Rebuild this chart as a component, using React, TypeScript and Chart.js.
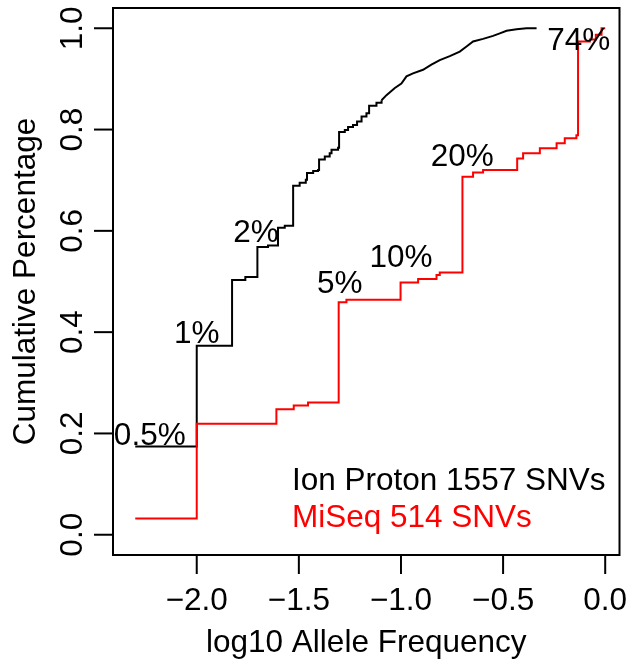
import { useEffect, useRef } from "react";
import { Chart, registerables } from "chart.js";

Chart.register(...registerables);

// Ion Proton ECDF (step part): log10 allele frequency and cumulative fraction
const ionStepX = [-2.301, -2.0, -1.827, -1.762, -1.703, -1.651, -1.602, -1.569, -1.528, -1.496, -1.466, -1.46, -1.43, -1.406, -1.401, -1.373, -1.349, -1.34, -1.308, -1.303, -1.275, -1.259, -1.235, -1.215, -1.193, -1.169, -1.156, -1.12, -1.095];
const ionStepY = [0.174, 0.373, 0.503, 0.509, 0.568, 0.571, 0.606, 0.61, 0.689, 0.695, 0.701, 0.714, 0.718, 0.72, 0.741, 0.747, 0.753, 0.76, 0.764, 0.795, 0.799, 0.805, 0.809, 0.816, 0.826, 0.832, 0.847, 0.853, 0.858];
// Ion Proton ECDF (dense tail)
const ionTailX = [-1.095, -1.071, -1.03, -0.998, -0.973, -0.941, -0.892, -0.851, -0.81, -0.761, -0.712, -0.679, -0.647, -0.598, -0.549, -0.516, -0.483, -0.434, -0.385, -0.336];
const ionTailY = [0.858, 0.868, 0.882, 0.891, 0.905, 0.911, 0.918, 0.928, 0.937, 0.945, 0.954, 0.964, 0.974, 0.979, 0.985, 0.99, 0.995, 0.998, 1.0, 1.0];
// MiSeq ECDF
const miseqX = [-2.301, -2.0, -1.61, -1.525, -1.455, -1.305, -1.267, -1.002, -0.916, -0.826, -0.81, -0.699, -0.647, -0.598, -0.431, -0.402, -0.32, -0.238, -0.198, -0.141, -0.133, -0.075, -0.046, -0.018, 0.0];
const miseqY = [0.032, 0.219, 0.248, 0.255, 0.261, 0.459, 0.464, 0.498, 0.505, 0.513, 0.518, 0.707, 0.715, 0.72, 0.743, 0.753, 0.763, 0.773, 0.783, 0.789, 0.974, 0.978, 0.987, 1.0, 1.0];

const xTicks = [-2.0, -1.5, -1.0, -0.5, 0.0];
const xTickLabels = ["\u22122.0", "\u22121.5", "\u22121.0", "\u22120.5", "0.0"];
const yTicks = [0, 0.2, 0.4, 0.6, 0.8, 1.0];
const yTickLabels = ["0.0", "0.2", "0.4", "0.6", "0.8", "1.0"];

const annotationLabels = ["0.5%", "1%", "2%", "5%", "10%", "20%", "74%"];
const annotationX = [-2.23, -2.0, -1.71, -1.3, -1.0, -0.7, -0.13];
const annotationY = [0.2, 0.4, 0.6, 0.5, 0.55, 0.75, 0.98];

const legendLabels = ["Ion Proton 1557 SNVs", "MiSeq 514 SNVs"];
const legendColors = ["#000000", "#ff0000"];

const xTitle = "log10 Allele Frequency";
const yTitle = "Cumulative Percentage";

const FS = 31.5;
const FONT = `${FS}px "Liberation Sans", Arial, Helvetica, sans-serif`;

const toPts = (xs: number[], ys: number[]) => xs.map((x, i) => ({ x, y: ys[i] }));

const rStylePlugin = {
  id: "rstyle",
  afterDatasetsDraw(chart: any) {
    const { ctx, chartArea: a, scales } = chart;
    const xs = scales.x;
    const ys = scales.y;
    ctx.save();
    ctx.font = FONT;
    ctx.fillStyle = "#000";
    ctx.textAlign = "center";
    ctx.textBaseline = "alphabetic";
    annotationLabels.forEach((t, i) => {
      ctx.fillText(t, xs.getPixelForValue(annotationX[i]), ys.getPixelForValue(annotationY[i]) + 0.358 * FS);
    });
    // legend
    ctx.textAlign = "left";
    legendLabels.forEach((t, i) => {
      ctx.fillStyle = legendColors[i];
      ctx.fillText(t, a.left + 179, a.bottom - 65 + i * 37);
    });
    // box
    ctx.strokeStyle = "#000";
    ctx.lineWidth = 2;
    ctx.strokeRect(a.left, a.top, a.right - a.left, a.bottom - a.top);
    ctx.fillStyle = "#000";
    // x ticks
    ctx.textAlign = "center";
    xTicks.forEach((v, i) => {
      const px = xs.getPixelForValue(v);
      ctx.beginPath();
      ctx.moveTo(px, a.bottom);
      ctx.lineTo(px, a.bottom + 19);
      ctx.stroke();
      ctx.fillText(xTickLabels[i], px, a.bottom + 55);
    });
    // y ticks
    yTicks.forEach((v, i) => {
      const py = ys.getPixelForValue(v);
      ctx.beginPath();
      ctx.moveTo(a.left - 19, py);
      ctx.lineTo(a.left, py);
      ctx.stroke();
      ctx.save();
      ctx.translate(a.left - 31, py);
      ctx.rotate(-Math.PI / 2);
      ctx.fillText(yTickLabels[i], 0, 0);
      ctx.restore();
    });
    // titles
    ctx.fillText(xTitle, (a.left + a.right) / 2, a.bottom + 97);
    ctx.save();
    ctx.translate(35, (a.top + a.bottom) / 2);
    ctx.rotate(-Math.PI / 2);
    ctx.fillText(yTitle, 0, 0);
    ctx.restore();
    ctx.restore();
  },
};

export default function App() {
  const ref = useRef<HTMLCanvasElement | null>(null);
  useEffect(() => {
    if (!ref.current) return;
    const chart = new Chart(ref.current, {
      type: "line",
      data: {
        datasets: [
          {
            label: "Ion Proton",
            data: toPts(ionStepX, ionStepY),
            borderColor: "#000000",
            borderWidth: 2,
            pointRadius: 0,
            stepped: true,
            fill: false,
            order: 2,
          },
          {
            label: "Ion Proton tail",
            data: toPts(ionTailX, ionTailY),
            borderColor: "#000000",
            borderWidth: 2,
            pointRadius: 0,
            stepped: false,
            tension: 0,
            fill: false,
            order: 2,
          },
          {
            label: "MiSeq",
            data: toPts(miseqX, miseqY),
            borderColor: "#ff0000",
            borderWidth: 2,
            pointRadius: 0,
            stepped: true,
            fill: false,
            order: 1,
          },
        ],
      },
      options: {
        animation: false,
        responsive: false,
        devicePixelRatio: 1,
        parsing: false as any,
        layout: { padding: { left: 113, top: 8, right: 12.5, bottom: 113 } },
        plugins: { legend: { display: false }, tooltip: { enabled: false } },
        scales: {
          x: { type: "linear", min: -2.41, max: 0.07, display: false },
          y: { type: "linear", min: -0.04, max: 1.04, display: false },
        },
      },
      plugins: [rStylePlugin],
    });
    return () => chart.destroy();
  }, []);
  return (
    <div style={{ position: "fixed", left: 0, top: 0, width: 632, height: 668, background: "#fff" }}>
      <canvas ref={ref} width={632} height={668} style={{ display: "block" }} />
    </div>
  );
}
